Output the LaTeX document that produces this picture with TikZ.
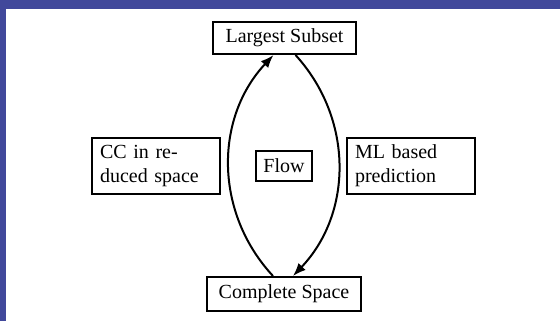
\documentclass[tikz,border=0pt]{standalone}
\usepackage{fontspec}
\setmainfont{Liberation Serif}
\usetikzlibrary{arrows.meta}
\definecolor{slideblue}{RGB}{65,72,155}

\begin{document}
\begin{tikzpicture}[x=0.5pt,y=-0.5pt,
    box/.style={draw,line width=1pt,inner sep=0pt},
    note/.style={box,align=left,text width=56pt,inner xsep=4pt,minimum height=28pt},
    flow/.style={line width=1pt,-{Latex[length=6.5pt,width=5pt]}}]

    % Slide frame
    \fill[white] (0,0) rectangle (560,321);
    \fill[slideblue] (0,0) rectangle (560,9);
    \fill[slideblue] (0,0) rectangle (6,321);
    \useasboundingbox (0,0) rectangle (560,321);

    % States
    \node[box,minimum width=71.5pt,minimum height=16pt] (subset) at (284.5,38) {Largest Subset};
    \node[box,minimum width=77pt,minimum height=17pt] (space) at (284,294) {Complete Space};
    \node[box,minimum width=28pt,minimum height=15pt] (flow) at (284,166) {Flow};

    % Side notes
    \node[note] (cc) at (156,166) {CC in re-\\duced space};
    \node[note] (ml) at (411,165.5) {ML based\\prediction};

    % Loop
    \draw[flow] ([xshift=-5.5pt]space.north) to[bend left=43] ([xshift=-5.5pt]subset.south);
    \draw[flow] ([xshift=5.5pt]subset.south) to[bend left=43] ([xshift=4.5pt]space.north);

\end{tikzpicture}
\end{document}
